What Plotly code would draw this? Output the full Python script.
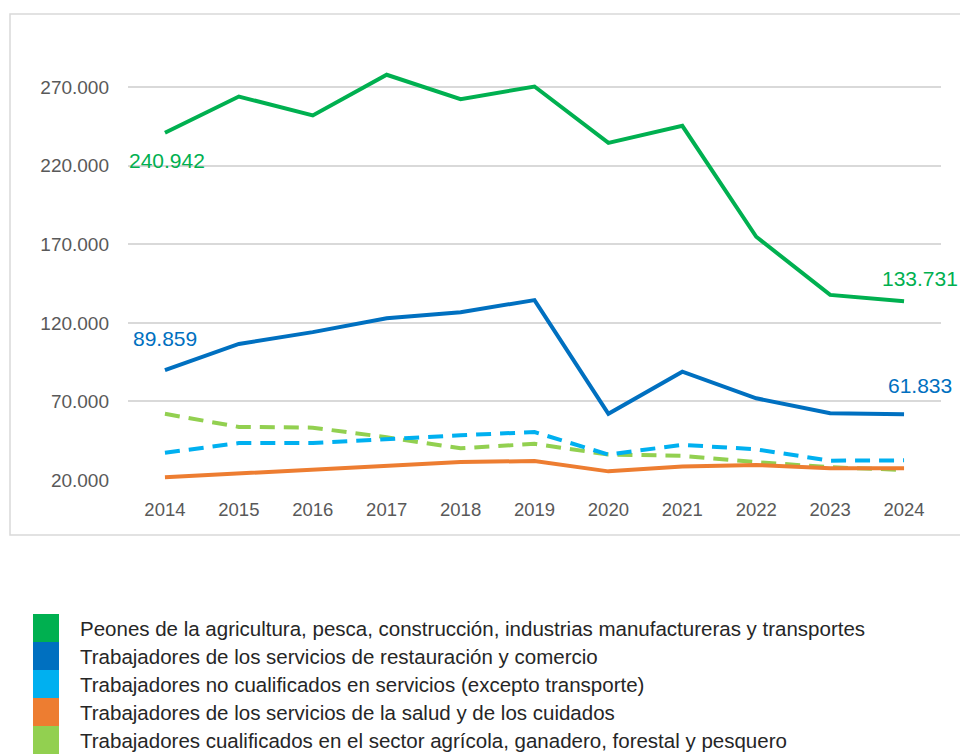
import plotly.graph_objects as go

years = ["2014", "2015", "2016", "2017", "2018", "2019", "2020", "2021", "2022", "2023", "2024"]

names = [
    "Peones de la agricultura, pesca, construcción, industrias manufactureras y transportes",
    "Trabajadores de los servicios de restauración y comercio",
    "Trabajadores no cualificados en servicios (excepto transporte)",
    "Trabajadores de los servicios de la salud y de los cuidados",
    "Trabajadores cualificados en el sector agrícola, ganadero, forestal y pesquero",
]

peones = [240942, 264000, 252000, 277900, 262300, 270400, 234500, 245400, 174800, 137800, 133731]
restauracion = [89859, 106600, 114100, 122900, 126800, 134500, 62100, 88900, 72000, 62500, 61833]
no_cualificados = [37300, 43500, 43500, 46300, 48500, 50500, 36200, 42400, 39500, 32300, 32500]
salud = [21800, 24200, 27000, 29200, 31400, 32100, 25500, 28600, 29600, 27500, 27500]
cualificados_agri = [62100, 53800, 53300, 47200, 40200, 43000, 36200, 35400, 31400, 28100, 26400]

series = [peones, restauracion, no_cualificados, salud, cualificados_agri]
colors = ["#00B050", "#0070C0", "#00B0F0", "#ED7D31", "#92D050"]
dashes = ["solid", "solid", "15px,9px", "solid", "15px,9px"]

y_ticks = [20000, 70000, 120000, 170000, 220000, 270000]

FONT = "Liberation Sans, Arial, sans-serif"

# page body margin is removed via post_script, so page pixels == figure pixels
W, H = 960, 756
PL, PR, PT, PB = 128, 941, 40, 480  # plot area in pixels
ML, MR, MT, MB = PL, W - PR, PT, H - PB
PW = W - ML - MR
PH = H - MT - MB


def px_x(px):
    return (px - ML) / PW


def px_y(py):
    return (H - MB - py) / PH


def fmt(v):
    return f"{v:,}".replace(",", ".")


fig = go.Figure()
order = [4, 3, 2, 1, 0]
for i in order:
    fig.add_trace(go.Scatter(
        x=years, y=series[i], name=names[i], mode="lines",
        line=dict(color=colors[i], width=4, dash=dashes[i]),
        showlegend=False, hoverinfo="x+y",
    ))

# data labels (series index, category index, xshift, yshift)
labels = [
    (0, 0, 2, -28),
    (1, 0, 0, 32),
    (0, 10, 15.5, 23),
    (1, 10, 15.5, 29),
]
for si, idx, xs, ys in labels:
    fig.add_annotation(
        x=idx, y=series[si][idx], text=fmt(series[si][idx]),
        showarrow=False, xshift=xs, yshift=ys,
        font=dict(family=FONT, size=21, color=colors[si]),
        xref="x", yref="y",
    )

shapes = []
shapes.append(dict(type="rect", xref="paper", yref="paper",
                   x0=px_x(10), x1=px_x(975), y0=px_y(535), y1=px_y(14),
                   line=dict(color="#D9D9D9", width=1.5), fillcolor="rgba(0,0,0,0)",
                   layer="below"))

for i, nm in enumerate(names):
    top = 614 + 28 * i
    shapes.append(dict(type="rect", xref="paper", yref="paper",
                       x0=px_x(33), x1=px_x(59), y0=px_y(top + 28), y1=px_y(top),
                       line=dict(width=0), fillcolor=colors[i]))
    fig.add_annotation(
        x=px_x(78), y=px_y(top + 14), xref="paper", yref="paper",
        text=nm, showarrow=False, xanchor="left", yanchor="middle",
        font=dict(family=FONT, size=20.5, color="#262626"),
    )

fig.update_layout(
    width=W, height=H,
    margin=dict(l=ML, r=MR, t=MT, b=MB),
    paper_bgcolor="white", plot_bgcolor="white",
    separators=",.",
    shapes=shapes,
    showlegend=False,
    xaxis=dict(
        type="category", range=[-0.5, 10.5], showgrid=False, showline=False,
        zeroline=False, ticks="", tickfont=dict(family=FONT, size=18.5, color="#595959"),
        ticklabelstandoff=16,
    ),
    yaxis=dict(
        range=[20000, 300000], tickvals=y_ticks, ticktext=[fmt(v) for v in y_ticks],
        showgrid=True, gridcolor="#D9D9D9", gridwidth=1.5, zeroline=False,
        showline=False, ticks="", tickfont=dict(family=FONT, size=19, color="#595959"),
        ticklabelstandoff=18,
    ),
)

fig.write_html(
    "out.html",
    config={"displayModeBar": False},
    post_script="document.body.style.margin='0';document.body.style.overflow='hidden';",
)
